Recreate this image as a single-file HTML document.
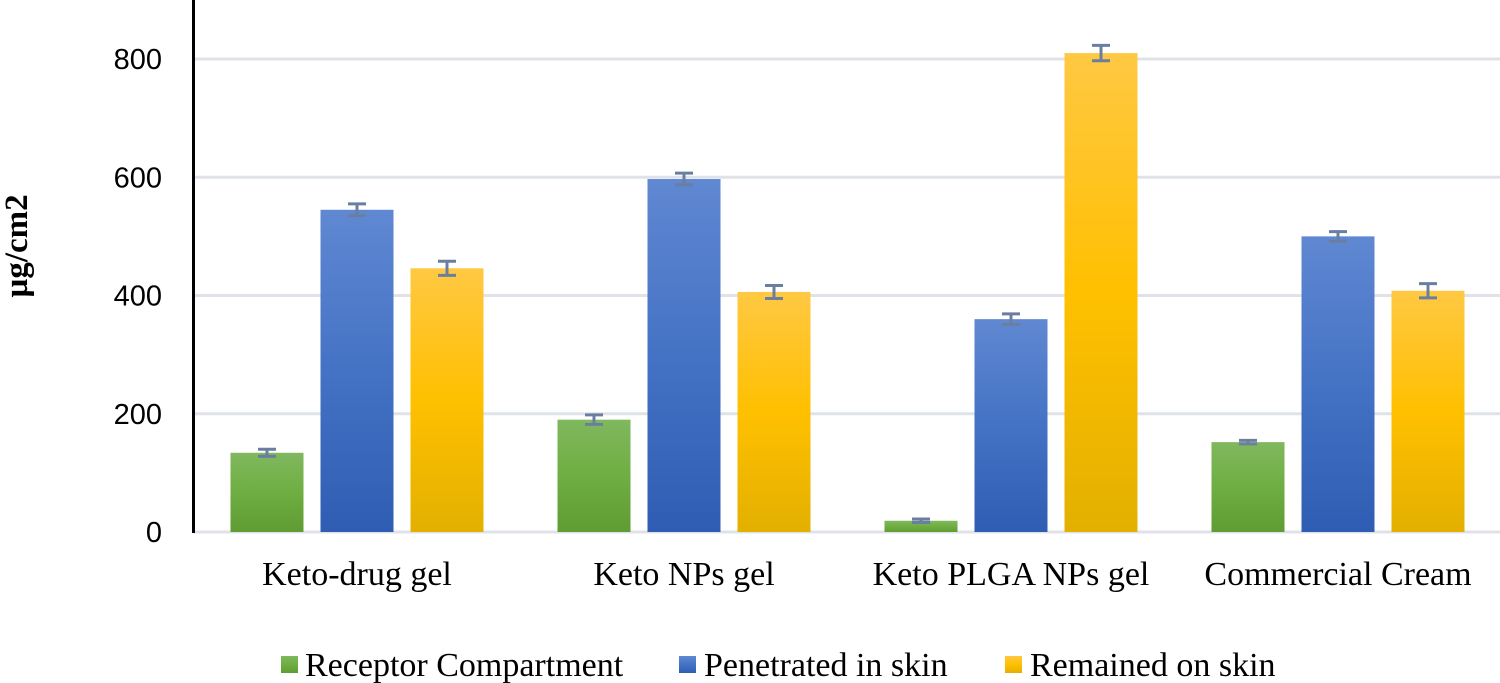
<!DOCTYPE html>
<html><head><meta charset="utf-8"><style>
body{margin:0;background:#fff;}
svg{display:block;}
text{font-family:"Liberation Serif",serif;fill:#000;}
</style></head><body>
<svg id="chart" width="1500" height="683" viewBox="0 0 1500 683">
<defs>
<linearGradient id="gG" x1="0" y1="0" x2="0" y2="1"><stop offset="0" stop-color="#80b85e"/><stop offset="0.5" stop-color="#6fae42"/><stop offset="1" stop-color="#5f9c33"/></linearGradient>
<linearGradient id="gB" x1="0" y1="0" x2="0" y2="1"><stop offset="0" stop-color="#6088d2"/><stop offset="0.5" stop-color="#4472c4"/><stop offset="1" stop-color="#2e5db3"/></linearGradient>
<linearGradient id="gY" x1="0" y1="0" x2="0" y2="1"><stop offset="0" stop-color="#ffc843"/><stop offset="0.5" stop-color="#ffc000"/><stop offset="1" stop-color="#e3b000"/></linearGradient>
</defs>
<g id="grid"></g>
<g id="bars"></g>
<line x1="193.5" y1="0" x2="193.5" y2="533" stroke="#000" stroke-width="3"/>
<g id="ticks"></g>
<g id="cats"></g>
<text transform="translate(27,246) rotate(-90)" text-anchor="middle" font-size="33" font-weight="bold">µg/cm2</text>
<g font-size="34">
<rect x="281" y="656" width="17" height="17" fill="url(#gG)"/>
<text x="305" y="676">Receptor Compartment</text>
<rect x="679" y="656" width="17" height="17" fill="url(#gB)"/>
<text x="704" y="676">Penetrated in skin</text>
<rect x="1005" y="656" width="17" height="17" fill="url(#gY)"/>
<text x="1030" y="676">Remained on skin</text>
</g>
</svg>
<script>
const categories=["Keto-drug gel","Keto NPs gel","Keto PLGA NPs gel","Commercial Cream"];
const receptor=[134,190,19,152];
const penetrated=[545,597,360,500];
const remained=[446,406,810,408];
const receptorErr=[6,8,3,3];
const penetratedErr=[10,10,9,8];
const remainedErr=[12,11,13,12];
const yTicks=[0,200,400,600,800];
const NS="http://www.w3.org/2000/svg";
const x0=193.5,catW=327,y0=532,pxPer=(532-59)/800;
const y=v=>y0-v*pxPer;
function mk(tag,attrs,parent){const e=document.createElementNS(NS,tag);for(const k in attrs)e.setAttribute(k,attrs[k]);parent.appendChild(e);return e;}
const grid=document.getElementById('grid'),bars=document.getElementById('bars'),ticks=document.getElementById('ticks'),cats=document.getElementById('cats');
yTicks.forEach(t=>{
  const l=mk('line',{x1:x0,x2:1500,y1:y(t),y2:y(t),stroke:'#dfe3e8','stroke-width':3},grid);
  
  
  const tx=mk('text',{x:162,y:y(t)+10,'text-anchor':'end','font-size':29,style:'font-family:"Liberation Sans",sans-serif'},ticks);
  tx.textContent=t;
  
  
});
const series=[[receptor,receptorErr,'url(#gG)','receptor'],[penetrated,penetratedErr,'url(#gB)','penetrated'],[remained,remainedErr,'url(#gY)','remained']];
categories.forEach((c,i)=>{
  const cx=x0+catW*(i+0.5);
  series.forEach((s,j)=>{
    const bx=cx+(j-1)*90-36.5, v=s[0][i], e=s[1][i];
    const r=mk('rect',{x:bx,y:y(v),width:73,height:y0-y(v),fill:s[2]},bars);
    
    
    const g=mk('g',{stroke:'#6a7fa0','stroke-width':3},bars);
    
    
    const mx=bx+36.5;
    mk('line',{x1:mx,x2:mx,y1:y(v+e),y2:y(v-e)},g);
    mk('line',{x1:mx-9,x2:mx+9,y1:y(v+e),y2:y(v+e)},g);
    mk('line',{x1:mx-9,x2:mx+9,y1:y(v-e),y2:y(v-e)},g);
  });
  const t=mk('text',{x:cx,y:585,'text-anchor':'middle','font-size':34},cats);
  t.textContent=c;
  
  
});
</script>
</body></html>
